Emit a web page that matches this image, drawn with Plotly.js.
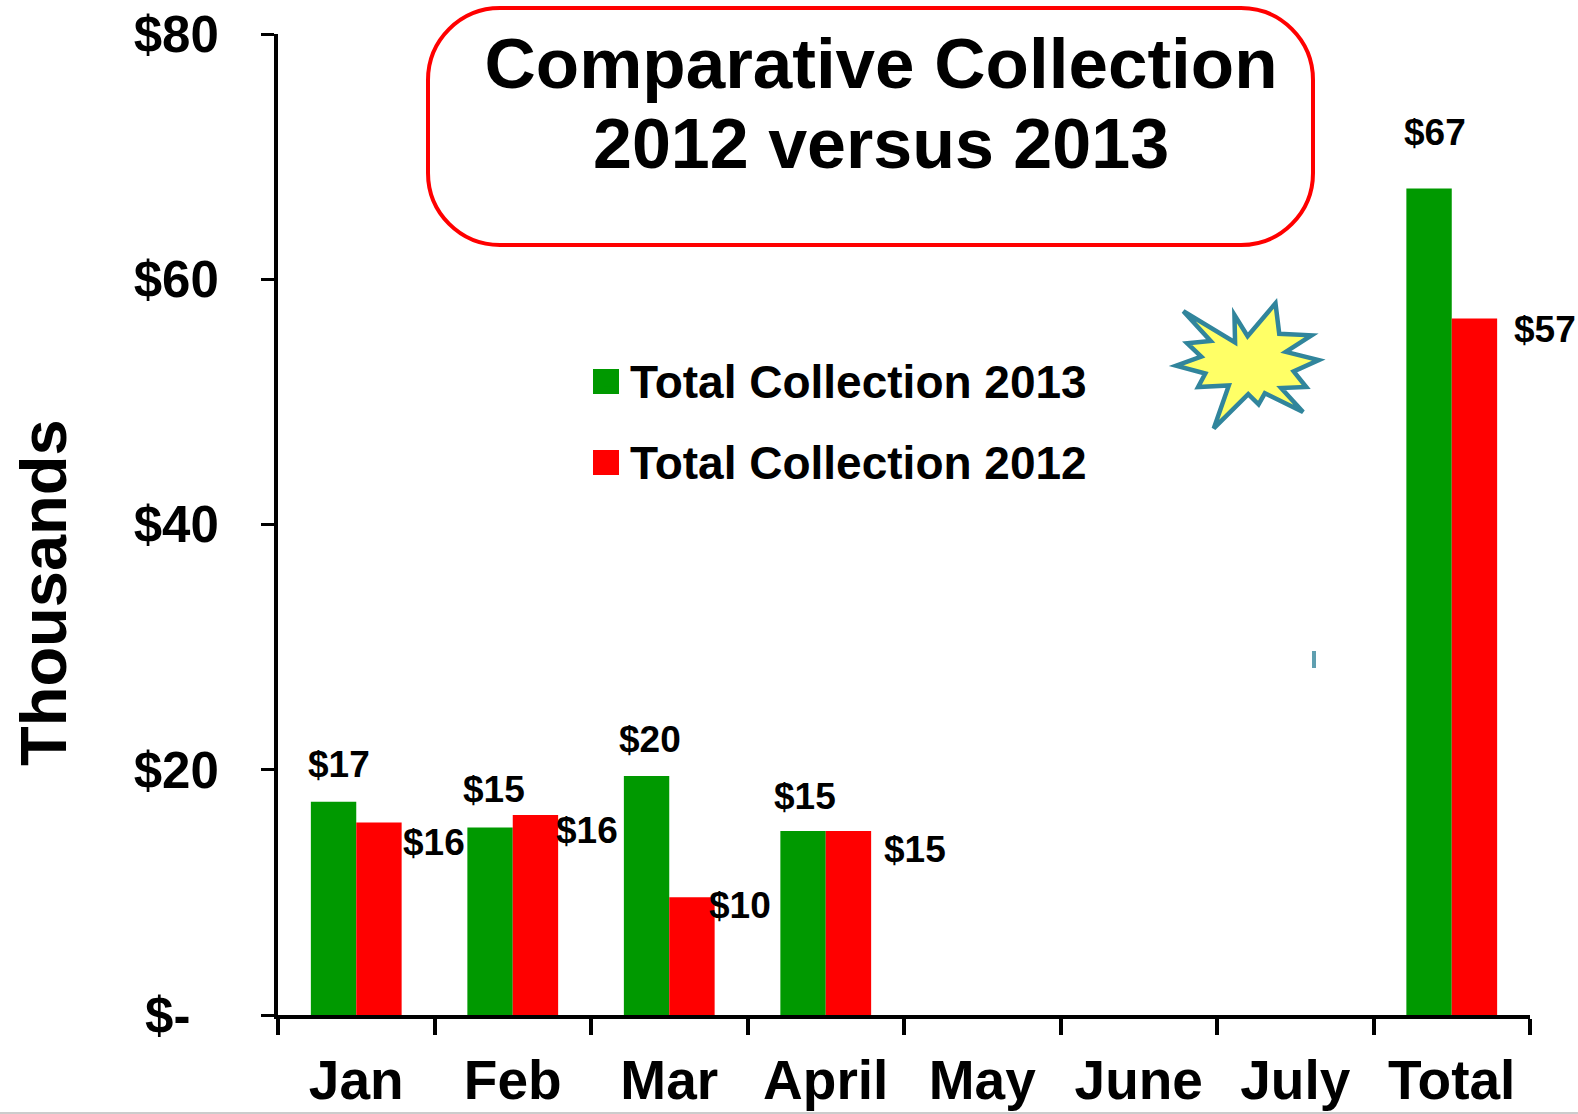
<!DOCTYPE html>
<html>
<head>
<meta charset="utf-8">
<script src="https://cdn.plot.ly/plotly-3.0.1.min.js"></script>
<style>html,body{margin:0;padding:0;background:#fff}</style>
</head>
<body>
<div id="chart" style="width:1578px;height:1114px"></div>
<script>
const categories = ["Jan","Feb","Mar","April","May","June","July","Total"];
const collection2013 = [17.4,15.3,19.5,15.0,null,null,null,67.4];
const collection2012 = [15.7,16.3,9.6,15.0,null,null,null,56.8];
const yTickValues = [0,20,40,60,80];
const yTickLabels = ["$-\u00a0\u00a0","$20","$40","$60","$80"];
const seriesName2013 = "Total Collection 2013";
const seriesName2012 = "Total Collection 2012";

const W = 1578, H = 1114;
const L = 278, R = 1530, T = 34, B = 1015;
const fx = p => (p - L) / (R - L);
const fy = p => (B - p) / (B - T);
const FONT = '"Liberation Sans", Arial, sans-serif';

// label pixel offsets from the category centre / bar top
const labels2013 = {Jan:[-17,37],Feb:[-19,38],Mar:[-19,36],April:[-21,35],Total:[-17,56]};
const labels2012 = {Jan:[78,-20],Feb:[74,-15],Mar:[71,-8],April:[89,-18],Total:[93,-11]};

function valueLabels(vals, offs){
  const out = [];
  categories.forEach((c,i)=>{
    if(vals[i]===null) return;
    out.push({x:c,y:vals[i],xref:'x',yref:'y',text:'$'+Math.round(vals[i]),showarrow:false,
      xshift:offs[c][0],yshift:offs[c][1],xanchor:'center',yanchor:'middle',
      font:{family:FONT,size:37,color:'#000',weight:700}});
  });
  return out;
}

function rrect(x0,y0,x1,y1,r){
  const k=0.5523;
  const rx=r/(R-L), ry=r/(B-T), cx=rx*(1-k), cy=ry*(1-k);
  const a=fx(x0),b=fx(x1),t=fy(y0),u=fy(y1);
  return `M${a+rx},${t} L${b-rx},${t} C${b-cx},${t} ${b},${t-cy} ${b},${t-ry} L${b},${u+ry} C${b},${u+cy} ${b-cx},${u} ${b-rx},${u} L${a+rx},${u} C${a+cx},${u} ${a},${u+cy} ${a},${u+ry} L${a},${t-ry} C${a},${t-cy} ${a+cx},${t} ${a+rx},${t} Z`;
}

const starOutline = [[118,113],[283,213],[281,125],[323,193],[412,88],[424,185],[527,190],[445,243],[550,269],[470,305],[510,355],[430,358],[500,435],[378,375],[358,410],[325,378],[215,487],[263,350],[165,355],[188,312],[95,287],[175,258],[130,215],[205,208]];
const starScale = 0.94;
const starPath = starOutline.map((p,i)=>(i?'L':'M')+fx(1140+(320+(p[0]-320)*starScale)/3)+','+fy(270+(290+(p[1]-290)*starScale)/3)).join(' ')+' Z';

const traces = [
  {type:'bar',name:seriesName2013,x:categories,y:collection2013,marker:{color:'#009900'},legendgroup:'a'},
  {type:'bar',name:seriesName2012,x:categories,y:collection2012,marker:{color:'#ff0000'},legendgroup:'b'}
];

const layout = {
  width:W,height:H,
  margin:{l:L,r:W-R,t:T,b:H-B,pad:0},
  paper_bgcolor:'#fff',plot_bgcolor:'#fff',
  font:{family:FONT,color:'#000'},
  barmode:'group',bargap:0.42,bargroupgap:0,
  title:{text:'Comparative Collection',font:{family:FONT,size:71,color:'#000',weight:700},
    x:881/W,xanchor:'center',xref:'container',y:1-63/H,yanchor:'middle',yref:'container'},
  xaxis:{type:'category',categoryorder:'array',categoryarray:categories,range:[-0.5,7.5],tickson:'boundaries',
    ticks:'outside',ticklen:16,tickwidth:4,tickcolor:'#000',showline:true,linecolor:'#000',linewidth:4,
    showgrid:false,zeroline:false,fixedrange:true,
    tickfont:{family:FONT,size:55,color:'#000',weight:700},ticklabelstandoff:14},
  yaxis:{range:[0,80],tickmode:'array',tickvals:yTickValues,ticktext:yTickLabels,
    ticks:'outside',ticklen:13,tickwidth:3,tickcolor:'#000',showline:true,linecolor:'#000',linewidth:4,
    showgrid:false,zeroline:false,fixedrange:true,
    tickfont:{family:FONT,size:51,color:'#000',weight:700},ticklabelstandoff:32},
  showlegend:true,
  legend:{x:fx(590),y:fy(344),xanchor:'left',yanchor:'top',traceorder:'grouped',tracegroupgap:18,
    bgcolor:'rgba(0,0,0,0)',borderwidth:0,itemclick:false,itemdoubleclick:false,
    font:{family:FONT,size:46,color:'#000',weight:700}},
  annotations:[
    {xref:'paper',yref:'paper',x:fx(881),y:fy(144),text:'2012 versus 2013',showarrow:false,xanchor:'center',yanchor:'middle',
      font:{family:FONT,size:70,color:'#000',weight:700}},
    {xref:'paper',yref:'paper',x:fx(44),y:fy(592),text:'Thousands',textangle:-90,showarrow:false,xanchor:'center',yanchor:'middle',
      font:{family:FONT,size:65,color:'#000',weight:700}},
    ...valueLabels(collection2013,labels2013),
    ...valueLabels(collection2012,labels2012)
  ],
  shapes:[
    {type:'path',xref:'paper',yref:'paper',path:rrect(428,8,1313,245,72),line:{color:'#ff0000',width:4},fillcolor:'rgba(0,0,0,0)',layer:'below'},
    {type:'path',xref:'paper',yref:'paper',path:starPath,line:{color:'#31859c',width:4.5},fillcolor:'#ffff66',layer:'above'},
    {type:'rect',xref:'paper',yref:'paper',x0:fx(1312),x1:fx(1316),y0:fy(651),y1:fy(668),line:{width:0},fillcolor:'#5f9fb0',layer:'above'},
    {type:'rect',xref:'paper',yref:'paper',x0:fx(593),x1:fx(619),y0:fy(369),y1:fy(394),line:{width:0},fillcolor:'#009900',layer:'above'},
    {type:'rect',xref:'paper',yref:'paper',x0:fx(593),x1:fx(619),y0:fy(450),y1:fy(475),line:{width:0},fillcolor:'#ff0000',layer:'above'},
    {type:'line',xref:'paper',yref:'paper',x0:fx(0),x1:fx(W),y0:fy(1113),y1:fy(1113),line:{color:'#cccccc',width:2}}
  ]
};
Plotly.newPlot('chart',traces,layout,{displayModeBar:false,responsive:false});
</script>
</body>
</html>
